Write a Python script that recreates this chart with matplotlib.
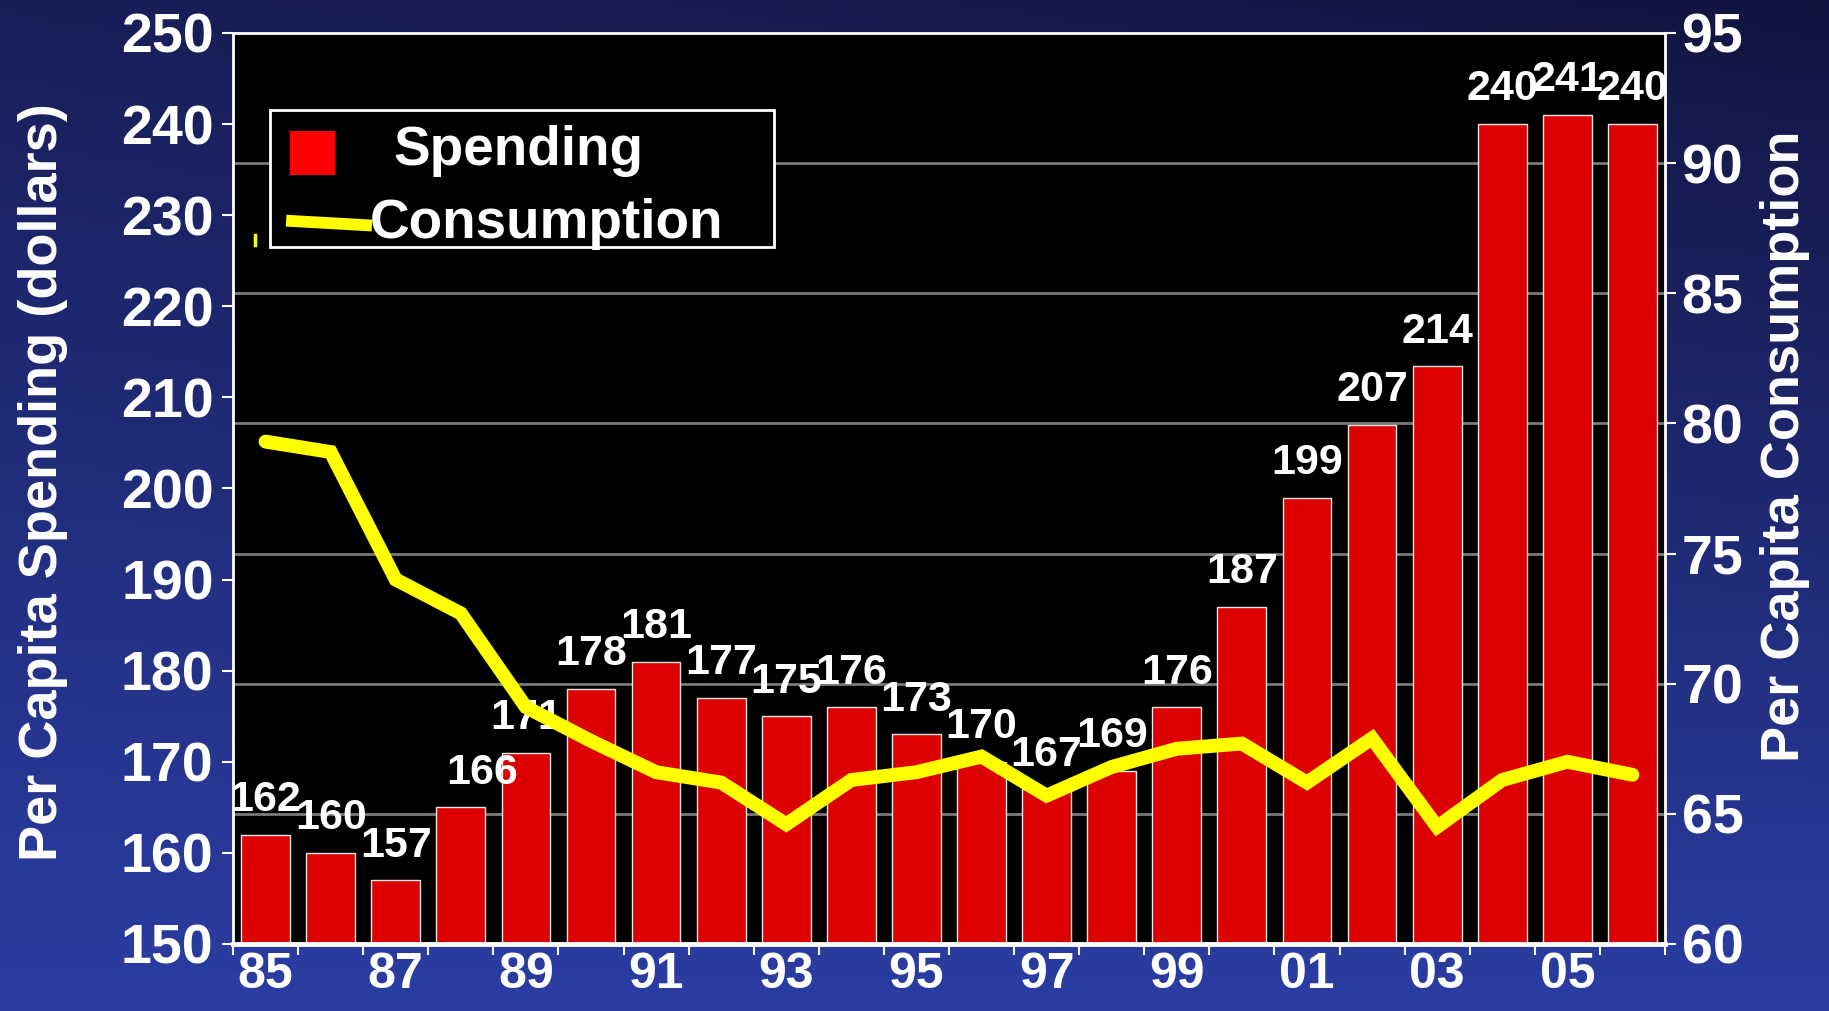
import numpy as np
import matplotlib
matplotlib.use("Agg")
import matplotlib.pyplot as plt
from matplotlib.lines import Line2D
from matplotlib.patches import Rectangle

# data
years = ["85", "86", "87", "88", "89", "90", "91", "92", "93", "94", "95",
         "96", "97", "98", "99", "00", "01", "02", "03", "04", "05", "06"]
spending = [162, 160, 157, 165, 171, 178, 181, 177, 175, 176, 173,
            170, 167, 169, 176, 187, 199, 207, 213.4, 240, 241, 240]
spending_labels = ["162", "160", "157", "166", "171", "178", "181", "177", "175", "176", "173",
                   "170", "167", "169", "176", "187", "199", "207", "214", "240", "241", "240"]
consumption = [79.3, 78.9, 74.0, 72.7, 69.1, 67.8, 66.6, 66.2, 64.6, 66.3, 66.6,
               67.2, 65.7, 66.8, 67.5, 67.7, 66.2, 67.9, 64.5, 66.3, 67.0, 66.5]

plt.rcParams["font.family"] = ["Liberation Sans", "DejaVu Sans"]
plt.rcParams["font.weight"] = "bold"

fig = plt.figure(figsize=(18.29, 10.11), dpi=100)

# slide background: smooth blue gradient
bg = fig.add_axes([0, 0, 1, 1], zorder=-5)
yy, xx = np.mgrid[0:1:200j, 0:1:360j]
t = np.clip(0.25 + 0.75 * yy - 0.25 * xx * (1 - yy), 0, 1)
dark = np.array([0.07, 0.08, 0.25])
light = np.array([0.17, 0.24, 0.64])
img = dark + (light - dark) * t[..., None]
bg.imshow(img[::-1], aspect="auto", extent=[0, 1, 0, 1], origin="lower")
bg.axis("off")

ax = fig.add_axes([0.1274, 0.0663, 0.7829, 0.9011])
ax.set_facecolor("black")
x = np.arange(len(years))

# gridlines follow the right axis ticks, drawn behind the bars
lo, hi = 150, 250
rlo, rhi = 60, 95
for v in range(65, 95, 5):
    ax.axhline(lo + (v - rlo) * (hi - lo) / (rhi - rlo), color="#7a7a7a", lw=2, zorder=0)

ax.bar(x, spending, width=0.75, color="#dd0000", edgecolor="#e8e8e8", linewidth=1, zorder=2)
nudge = {3: 15}
for i, (v, s) in enumerate(zip(spending, spending_labels)):
    ax.annotate(s, (i, v), xytext=(nudge.get(i, 0), 10.5), textcoords="offset points",
                ha="center", va="bottom", color="white", fontsize=31,
                fontweight="bold", zorder=3)

ax.set_xlim(-0.5, len(years) - 0.5)
ax.set_ylim(lo, hi)
ax.set_yticks(range(150, 251, 10))
ax.set_xticks(x[::2])
ax.set_xticklabels(years[::2])
ax.set_xticks(np.arange(-0.5, len(years)), minor=True)
ax.tick_params(axis="x", which="major", length=0, pad=6, colors="white", labelsize=36)
ax.tick_params(axis="x", which="minor", length=8, width=1.5, color="white", direction="out")
ax.tick_params(axis="y", length=8, width=1.5, colors="white", labelsize=40, pad=6)
for side in ["left", "top", "right"]:
    ax.spines[side].set_color("white")
    ax.spines[side].set_linewidth(2)
ax.spines["bottom"].set_color("white")
ax.spines["bottom"].set_linewidth(3.5)

ax2 = ax.twinx()
ax2.plot(x, consumption, color="#ffff00", lw=10, solid_capstyle="round",
         solid_joinstyle="miter", zorder=5)
ax2.set_ylim(rlo, rhi)
ax2.set_yticks(range(60, 96, 5))
ax2.tick_params(axis="y", length=8, width=1.5, colors="white", labelsize=40, pad=4)
for s in ax2.spines.values():
    s.set_visible(False)

fig.text(43 / 1829, 1 - 482 / 1011, "Per Capita Spending (dollars)", rotation=90,
         ha="center", va="center", color="white", fontsize=39, fontweight="bold")
fig.text(1785 / 1829, 1 - 446 / 1011, "Per Capita Consumption", rotation=90,
         ha="center", va="center", color="white", fontsize=39, fontweight="bold")

# legend box drawn by hand, the way the slide has it
tr = ax2.transAxes
ax2.add_patch(Rectangle((0.0258, 0.765), 0.352, 0.1505, transform=tr, facecolor="black",
                        edgecolor="white", lw=2, zorder=6))
ax2.add_patch(Rectangle((0.0398, 0.844), 0.0314, 0.048, transform=tr, facecolor="#ff0000",
                        edgecolor="none", zorder=7))
ax2.add_line(Line2D([0.0412, 0.0929], [0.7936, 0.789], transform=tr, color="#ffff00",
                    lw=8.5, zorder=7))
ax2.text(0.1117, 0.855, "Spending", transform=tr, color="white", fontsize=39.5,
         fontweight="bold", va="baseline", ha="left", zorder=8)
ax2.text(0.0957, 0.775, "Consumption", transform=tr, color="white", fontsize=39.5,
         fontweight="bold", va="baseline", ha="left", zorder=8)
ax2.add_line(Line2D([0.0154, 0.0154], [0.767, 0.778], transform=tr, color="#ffff00",
                    lw=2.5, zorder=7))

fig.savefig("out.png", dpi=100)
